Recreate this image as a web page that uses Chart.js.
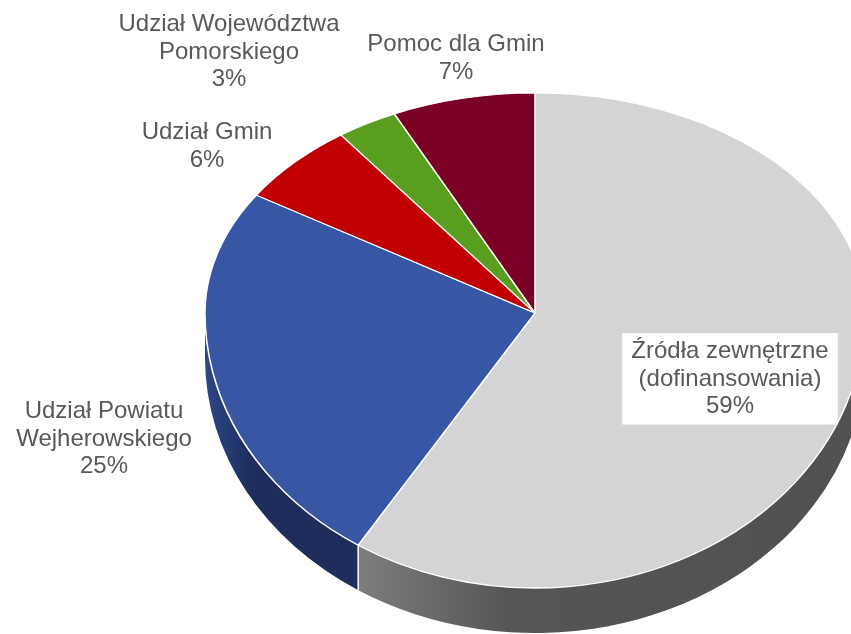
<!DOCTYPE html>
<html>
<head>
<meta charset="utf-8">
<script src="https://cdn.jsdelivr.net/npm/chart.js@4.4.0/dist/chart.umd.min.js"></script>
<style>
  html, body { margin: 0; background: #fff; }
  #wrap { width: 851px; height: 634px; }
</style>
</head>
<body>
<div id="wrap"><canvas id="pie"></canvas></div>
<script>
const sliceLabels = [
  ['Źródła zewnętrzne', '(dofinansowania)'],
  ['Udział Powiatu', 'Wejherowskiego'],
  ['Udział Gmin'],
  ['Udział Województwa', 'Pomorskiego'],
  ['Pomoc dla Gmin']
];
const shares = [59, 25, 6, 3, 7];
const topColors = ['#d4d4d4', '#3757a4', '#c00000', '#5a9e20', '#7b0026'];
const sideColors = [['#7d7d7d', '#555555', '#515151'], ['#2c4886', '#1d2e5d', '#1d2e5d'],
  ['#8a0000', '#6e0000', '#6e0000'], ['#3f7016', '#335c12', '#335c12'], ['#58001b', '#4a0016', '#4a0016']];

// tilted disc: back half is flatter than the front half (cheap perspective)
const disc = { cx: 535, cy: 313, rx: 330, ryBack: 220, ryFront: 275, depth: 45 };
// label centre x and first baseline
const labelSpots = [
  { x: 730, y: 358, box: true },
  { x: 104, y: 418 },
  { x: 207, y: 139 },
  { x: 229, y: 31 },
  { x: 456, y: 51 }
];
const LINE = 27.5;

function squash(chart, ry, top) {
  const ctx = chart.ctx;
  const a0 = chart.getDatasetMeta(0).data[0];
  ctx.save();
  ctx.beginPath();
  if (top) ctx.rect(0, 0, chart.width, disc.cy + 0.5);
  else ctx.rect(0, disc.cy - 0.5, chart.width, chart.height);
  ctx.clip();
  ctx.translate(disc.cx, disc.cy);
  ctx.scale(disc.rx / a0.outerRadius, ry / a0.outerRadius);
  ctx.translate(-a0.x, -a0.y);
}

const tilt = {
  id: 'tilt',
  beforeDatasetsDraw(chart) {
    const ctx = chart.ctx;
    const arcs = chart.getDatasetMeta(0).data;
    const px = a => disc.cx + disc.rx * Math.cos(a);
    const py = a => disc.cy + disc.ryFront * Math.sin(a);
    const seams = [];

    // side wall: only the front half (0..PI) shows
    arcs.forEach((arc, i) => {
      const { startAngle, endAngle } = arc.getProps(['startAngle', 'endAngle'], true);
      const a1 = Math.max(startAngle, 0);
      const a2 = Math.min(endAngle, Math.PI);
      if (a2 <= a1) return;
      if (endAngle < Math.PI) seams.push(endAngle);
      const g = ctx.createLinearGradient(px(a2), 0, px(a1), 0);
      g.addColorStop(0, sideColors[i][0]);
      g.addColorStop(0.3, sideColors[i][1]);
      g.addColorStop(1, sideColors[i][2]);
      ctx.fillStyle = g;
      ctx.beginPath();
      ctx.ellipse(disc.cx, disc.cy, disc.rx, disc.ryFront, 0, a1, a2);
      ctx.ellipse(disc.cx, disc.cy + disc.depth, disc.rx, disc.ryFront, 0, a2, a1, true);
      ctx.closePath();
      ctx.fill();
    });

    ctx.strokeStyle = '#ffffff';
    ctx.lineWidth = 1.5;
    seams.forEach(a => {
      ctx.beginPath();
      ctx.moveTo(px(a), py(a));
      ctx.lineTo(px(a), py(a) + disc.depth);
      ctx.stroke();
    });

    squash(chart, disc.ryBack, true);
  },
  afterDatasetsDraw(chart) {
    chart.ctx.restore();
    // front half of the top face, same arcs drawn again with a deeper squash
    squash(chart, disc.ryFront, false);
    chart.getDatasetMeta(0).controller.draw();
    chart.ctx.restore();
  }
};

const sliceText = {
  id: 'sliceText',
  afterDraw(chart) {
    const ctx = chart.ctx;
    const total = shares.reduce((a, b) => a + b, 0);
    ctx.save();
    ctx.font = '24px "Liberation Sans", Arial, sans-serif';
    ctx.textAlign = 'center';
    ctx.textBaseline = 'alphabetic';
    sliceLabels.forEach((lines, i) => {
      const spot = labelSpots[i];
      const all = lines.concat(Math.round(shares[i] / total * 100) + '%');
      if (spot.box) {
        const w = Math.max(...all.map(t => ctx.measureText(t).width)) + 18;
        const h = all.length * LINE + 9;
        ctx.fillStyle = '#ffffff';
        ctx.fillRect(spot.x - w / 2, spot.y - 25, w, h);
      }
      ctx.fillStyle = '#595959';
      all.forEach((t, k) => ctx.fillText(t, spot.x, spot.y + k * LINE));
    });
    ctx.restore();
  }
};

new Chart(document.getElementById('pie'), {
  type: 'pie',
  data: {
    labels: sliceLabels.map(l => l.join(' ')),
    datasets: [{
      data: shares,
      backgroundColor: topColors,
      borderColor: '#ffffff',
      borderWidth: 1.5,
      clip: false
    }]
  },
  options: {
    responsive: true,
    maintainAspectRatio: false,
    animation: false,
    events: [],
    plugins: {
      legend: { display: false },
      tooltip: { enabled: false }
    }
  },
  plugins: [tilt, sliceText]
});
</script>
</body>
</html>
